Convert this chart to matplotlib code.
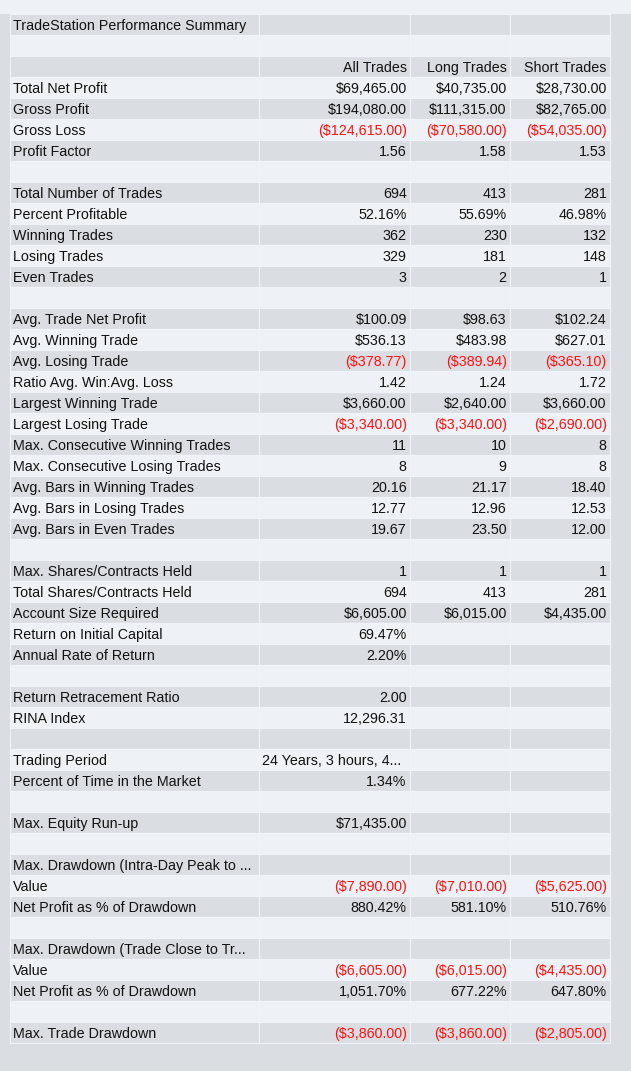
import matplotlib.pyplot as plt
import matplotlib.transforms as mtransforms

plt.rcParams['font.family'] = ['Liberation Sans', 'DejaVu Sans']

# ---- table contents ------------------------------------------------------
labels = [
    "TradeStation Performance Summary", "", "",
    "Total Net Profit", "Gross Profit", "Gross Loss", "Profit Factor", "",
    "Total Number of Trades", "Percent Profitable", "Winning Trades",
    "Losing Trades", "Even Trades", "",
    "Avg. Trade Net Profit", "Avg. Winning Trade", "Avg. Losing Trade",
    "Ratio Avg. Win:Avg. Loss", "Largest Winning Trade", "Largest Losing Trade",
    "Max. Consecutive Winning Trades", "Max. Consecutive Losing Trades",
    "Avg. Bars in Winning Trades", "Avg. Bars in Losing Trades",
    "Avg. Bars in Even Trades", "",
    "Max. Shares/Contracts Held", "Total Shares/Contracts Held",
    "Account Size Required", "Return on Initial Capital",
    "Annual Rate of Return", "",
    "Return Retracement Ratio", "RINA Index", "",
    "Trading Period", "Percent of Time in the Market", "",
    "Max. Equity Run-up", "",
    "Max. Drawdown (Intra-Day Peak to ...", "Value",
    "Net Profit as % of Drawdown", "",
    "Max. Drawdown (Trade Close to Tr...", "Value",
    "Net Profit as % of Drawdown", "",
    "Max. Trade Drawdown",
]

all_trades = [
    "", "", "All Trades",
    "$69,465.00", "$194,080.00", "($124,615.00)", "1.56", "",
    "694", "52.16%", "362", "329", "3", "",
    "$100.09", "$536.13", "($378.77)", "1.42", "$3,660.00", "($3,340.00)",
    "11", "8", "20.16", "12.77", "19.67", "",
    "1", "694", "$6,605.00", "69.47%", "2.20%", "",
    "2.00", "12,296.31", "",
    "24 Years, 3 hours, 4...", "1.34%", "",
    "$71,435.00", "",
    "", "($7,890.00)", "880.42%", "",
    "", "($6,605.00)", "1,051.70%", "",
    "($3,860.00)",
]

long_trades = [
    "", "", "Long Trades",
    "$40,735.00", "$111,315.00", "($70,580.00)", "1.58", "",
    "413", "55.69%", "230", "181", "2", "",
    "$98.63", "$483.98", "($389.94)", "1.24", "$2,640.00", "($3,340.00)",
    "10", "9", "21.17", "12.96", "23.50", "",
    "1", "413", "$6,015.00", "", "", "",
    "", "", "",
    "", "", "",
    "", "",
    "", "($7,010.00)", "581.10%", "",
    "", "($6,015.00)", "677.22%", "",
    "($3,860.00)",
]

short_trades = [
    "", "", "Short Trades",
    "$28,730.00", "$82,765.00", "($54,035.00)", "1.53", "",
    "281", "46.98%", "132", "148", "1", "",
    "$102.24", "$627.01", "($365.10)", "1.72", "$3,660.00", "($2,690.00)",
    "8", "8", "18.40", "12.53", "12.00", "",
    "1", "281", "$4,435.00", "", "", "",
    "", "", "",
    "", "", "",
    "", "",
    "", "($5,625.00)", "510.76%", "",
    "", "($4,435.00)", "647.80%", "",
    "($2,805.00)",
]

col_px = [249, 151, 100, 100]

GRAY = '#dadee2'
LIGHT = '#eef2f6'
EDGE = '#f0f3f7'

W, H = 631, 1071
fig = plt.figure(figsize=(W / 100, H / 100), dpi=100, facecolor=GRAY)
ax = fig.add_axes([0, 0, 1, 1])
ax.set_xlim(0, W)
ax.set_ylim(H, 0)
ax.axis('off')
ax.axhspan(0, 13.5, color=LIGHT, lw=0)

rows = [list(r) for r in zip(labels, all_trades, long_trades, short_trades)]
n = len(rows)
colours = [[GRAY if i % 2 == 0 else LIGHT] * 4 for i in range(n)]

top, bottom = 13.5, 1043
tbl = ax.table(cellText=rows, cellColours=colours,
               colWidths=[c / sum(col_px) for c in col_px],
               bbox=[10 / W, (H - bottom) / H, sum(col_px) / W, (bottom - top) / H])
tbl.auto_set_font_size(False)
tbl.set_fontsize(10.3)

# text positions are in pixels; nudge everything down a little
shift = mtransforms.Affine2D().translate(0, -1.5)

for (r, c), cell in tbl.get_celld().items():
    cell.set_edgecolor(EDGE)
    cell.set_linewidth(0.8)
    cell.PAD = 3.3 / col_px[c]
    txt = cell.get_text()
    txt.set_transform(shift)
    txt.set_color('#111111')
    if c == 0 or rows[r][c].startswith('24 Years'):
        cell._loc = 'left'
        txt.set_ha('left')
    else:
        cell._loc = 'right'
        txt.set_ha('right')
    if rows[r][c].startswith('('):
        txt.set_color('#ff1010')

fig.savefig('out.png', dpi=100, facecolor=GRAY)
